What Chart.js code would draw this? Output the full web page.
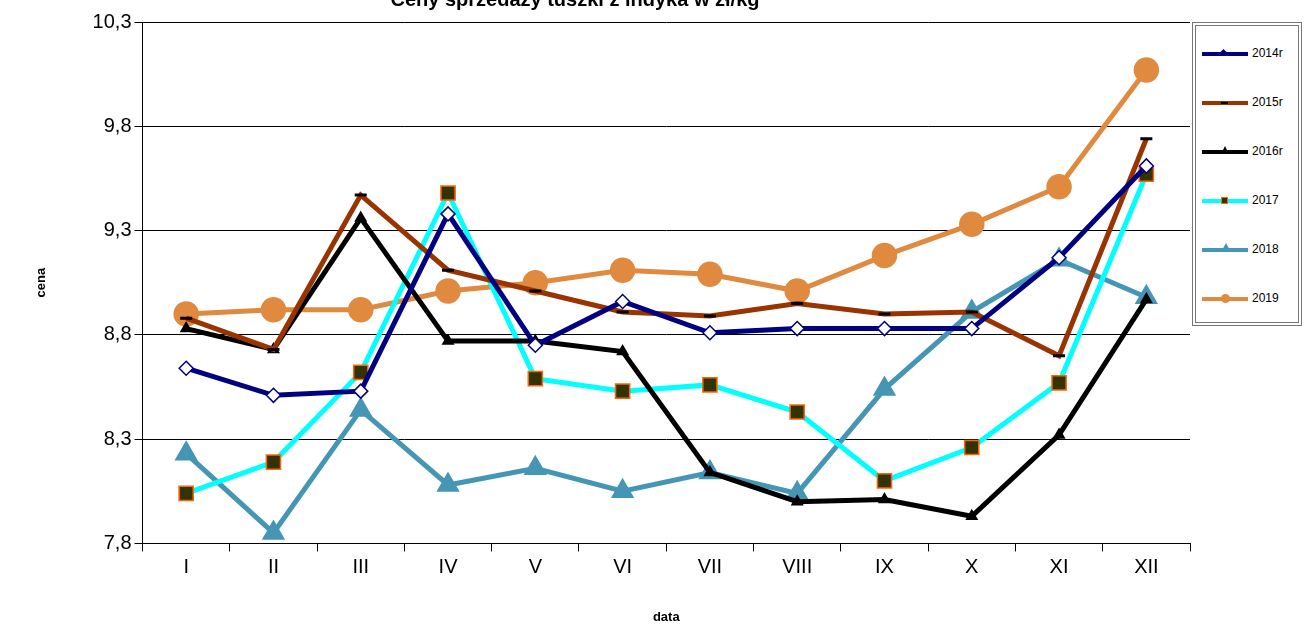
<!DOCTYPE html>
<html>
<head>
<meta charset="utf-8">
<script src="https://cdn.jsdelivr.net/npm/chart.js@4"></script>
<style>
  body { margin: 0; background: #fff; font-family: "Liberation Sans", Arial, sans-serif; }
  #wrap { position: relative; width: 1306px; height: 633px; overflow: hidden; }
  #title { position: absolute; left: 0; width: 1150px; top: -12px; text-align: center; font-size: 20px; font-weight: bold; }
  #legend { position: absolute; left: 1192px; top: 22px; width: 110px; height: 304px;
    border: 4px double #777; box-sizing: border-box; background: #fff; }
  .item { position: absolute; left: 6px; font-size: 12px; }
  .line { position: absolute; left: 0; top: 6px; width: 46px; height: 4px; }
  .mk { position: absolute; left: 19px; top: 4px; width: 7px; height: 7px; }
  .lbl { position: absolute; left: 50px; top: 0; white-space: nowrap; }
</style>
</head>
<body>
<div id="wrap">
  <canvas id="chart" width="1306" height="633"></canvas>
  <div id="title">Ceny sprzedaży tuszki z indyka w zł/kg</div>
  <div id="legend"></div>
</div>
<script>
const categories = ["I", "II", "III", "IV", "V", "VI", "VII", "VIII", "IX", "X", "XI", "XII"];
const s2014 = [8.64, 8.51, 8.53, 9.38, 8.75, 8.96, 8.81, 8.83, 8.83, 8.83, 9.17, 9.61];
const s2015 = [8.88, 8.73, 9.47, 9.11, 9.01, 8.91, 8.89, 8.95, 8.90, 8.91, 8.70, 9.74];
const s2016 = [8.83, 8.73, 9.36, 8.77, 8.77, 8.72, 8.14, 8.00, 8.01, 7.93, 8.32, 8.97];
const s2017 = [8.04, 8.19, 8.62, 9.48, 8.59, 8.53, 8.56, 8.43, 8.10, 8.26, 8.57, 9.57];
const s2018 = [8.23, 7.85, 8.44, 8.08, 8.16, 8.05, 8.14, 8.04, 8.54, 8.91, 9.16, 8.98];
const s2019 = [8.90, 8.92, 8.92, 9.01, 9.05, 9.11, 9.09, 9.01, 9.18, 9.33, 9.51, 10.07];

const series = [
  { label: "2014r", data: s2014, color: "#000080", pointStyle: "rectRot", radius: 7, fill: "#fff", border: "#000080", mk: "width:5px;height:5px;transform:rotate(45deg);background:#000080" },
  { label: "2015r", data: s2015, color: "#993300", pointStyle: "line", radius: 6, fill: "#000", border: "#000", mk: "width:7px;height:2px;top:7px;background:#000" },
  { label: "2016r", data: s2016, color: "#000000", pointStyle: "triangle", radius: 6, fill: "#000", border: "#000", mk: "width:0;height:0;top:2px;border-left:4px solid transparent;border-right:4px solid transparent;border-bottom:8px solid #000" },
  { label: "2017", data: s2017, color: "#00ffff", pointStyle: "rect", radius: 10, fill: "#333300", border: "#ff6600", mk: "width:5px;height:5px;background:#333300;border:1px solid #ff6600" },
  { label: "2018", data: s2018, color: "#4596b4", pointStyle: "triangle", radius: 12, fill: "#4596b4", border: "#4596b4", mk: "width:0;height:0;top:1px;border-left:5px solid transparent;border-right:5px solid transparent;border-bottom:9px solid #4596b4" },
  { label: "2019", data: s2019, color: "#e08a40", pointStyle: "circle", radius: 12, fill: "#e08a40", border: "#e08a40", mk: "width:9px;height:9px;top:3px;border-radius:50%;background:#e08a40" }
];

const legend = document.getElementById('legend');
series.forEach((s, i) => {
  const d = document.createElement('div');
  d.className = 'item';
  d.style.top = (20 + i * 49) + 'px';
  d.innerHTML = `<div class="line" style="background:${s.color}"></div>` +
    `<div class="mk" style="${s.mk}"></div>` +
    `<div class="lbl">${s.label}</div>`;
  legend.appendChild(d);
});

new Chart(document.getElementById('chart'), {
  type: 'line',
  data: {
    labels: categories,
    datasets: series.map(s => ({
      label: s.label, data: s.data, borderColor: s.color, borderWidth: 5,
      pointStyle: s.pointStyle, pointRadius: s.radius, pointBackgroundColor: s.fill,
      pointBorderColor: s.border, pointBorderWidth: s.pointStyle === 'line' ? 3 : 1.5,
      tension: 0
    }))
  },
  options: {
    responsive: false,
    animation: false,
    layout: { padding: { top: 22, right: 116, left: 30, bottom: 4 } },
    plugins: { legend: { display: false } },
    scales: {
      x: {
        offset: true,
        grid: { display: true, drawOnChartArea: false, offset: true, color: '#000', tickLength: 8 },
        border: { color: '#000' },
        ticks: { color: '#000', font: { size: 20, family: "Liberation Sans" }, padding: 4 },
        title: { display: true, text: 'data', color: '#000', font: { size: 13, weight: 'bold' }, padding: { top: 26 } }
      },
      y: {
        min: 7.8, max: 10.3,
        grid: { color: '#000', tickLength: 8 },
        border: { color: '#000' },
        ticks: { stepSize: 0.5, color: '#000', font: { size: 20, family: "Liberation Sans" },
          callback: v => v.toFixed(1).replace('.', ',') },
        title: { display: true, text: 'cena', color: '#000', font: { size: 13, weight: 'bold' }, padding: { bottom: 40 } }
      }
    }
  }
});
</script>
</body>
</html>
